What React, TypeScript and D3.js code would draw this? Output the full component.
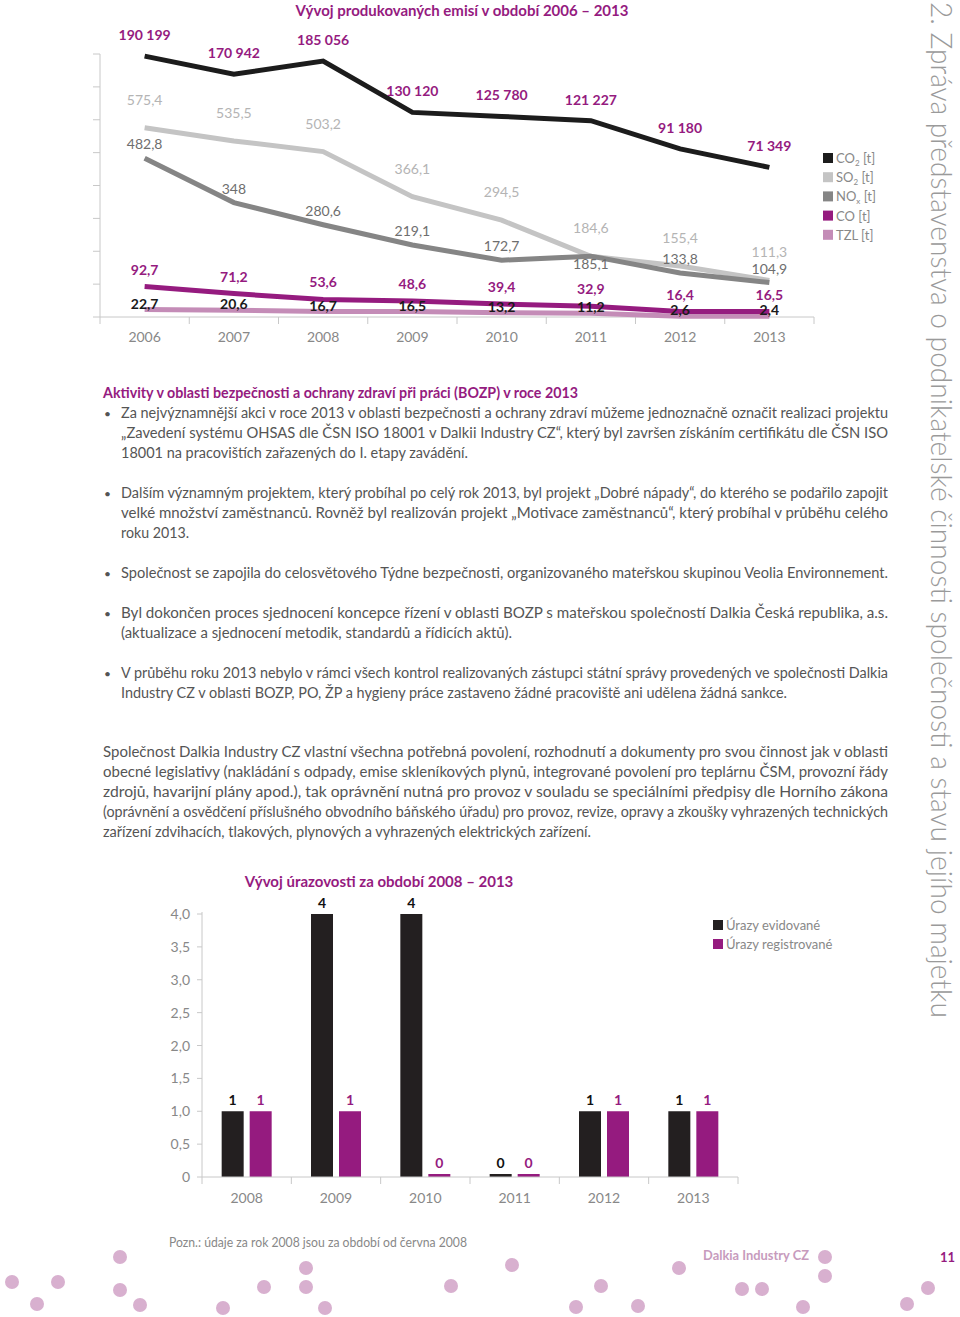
import React from 'react';
import * as d3 from 'd3';

// ---------- data ----------
const emissionYears = ['2006', '2007', '2008', '2009', '2010', '2011', '2012', '2013'];
const co2Values = [190199, 170942, 185056, 130120, 125780, 121227, 91180, 71349];
const so2Values = [575.4, 535.5, 503.2, 366.1, 294.5, 184.6, 155.4, 111.3];
const noxValues = [482.8, 348, 280.6, 219.1, 172.7, 185.1, 133.8, 104.9];
const coValues = [92.7, 71.2, 53.6, 48.6, 39.4, 32.9, 16.4, 16.5];
const tzlValues = [22.7, 20.6, 16.7, 16.5, 13.2, 11.2, 2.6, 2.4];
const emissionTicks = [0, 100, 200, 300, 400, 500, 600, 700, 800];

const injuryYears = ['2008', '2009', '2010', '2011', '2012', '2013'];
const injuriesRecorded = [1, 4, 4, 0, 1, 1];
const injuriesRegistered = [1, 1, 0, 0, 1, 1];
const injuryTicks = [0, 0.5, 1, 1.5, 2, 2.5, 3, 3.5, 4];

// ---------- styles ----------
const FONT = 'Lato, "Open Sans", sans-serif';
const PURPLE = '#951b7f';
const LIGHT_PURPLE = '#c48cb7';
const DOT = '#d8b0cf';
const TEXT = '#555';
const AXIS = '#c8c8c8';
const TICK_TEXT = '#888';

const czLocale = d3.formatLocale({ decimal: ',', thousands: '\u00a0', grouping: [3], currency: ['', ''] });
const fmtInt = czLocale.format(',d');
const fmtDec = (v: number) => (Number.isInteger(v) ? String(v) : v.toFixed(1).replace('.', ','));
const fmtTick = (v: number) => (v === 0 ? '0' : v.toFixed(1).replace('.', ','));

const bodyLines: { x: number; y: number; w: number; t: string; bullet?: boolean }[] = [
  { x: 121, y: 418, w: 767, bullet: true, t: 'Za nejvýznamnější akci v roce 2013 v oblasti bezpečnosti a ochrany zdraví můžeme jednoznačně označit realizaci projektu' },
  { x: 121, y: 438, w: 767, t: '„Zavedení systému OHSAS dle ČSN ISO 18001 v Dalkii Industry CZ“, který byl završen získáním certifikátu dle ČSN ISO' },
  { x: 121, y: 458, w: 347, t: '18001 na pracovištích zařazených do I. etapy zavádění.' },
  { x: 121, y: 498, w: 767, bullet: true, t: 'Dalším významným projektem, který probíhal po celý rok 2013, byl projekt „Dobré nápady“, do kterého se podařilo zapojit' },
  { x: 121, y: 518, w: 767, t: 'velké množství zaměstnanců. Rovněž byl realizován projekt „Motivace zaměstnanců“, který probíhal v průběhu celého' },
  { x: 121, y: 538, w: 68, t: 'roku 2013.' },
  { x: 121, y: 578, w: 767, bullet: true, t: 'Společnost se zapojila do celosvětového Týdne bezpečnosti, organizovaného mateřskou skupinou Veolia Environnement.' },
  { x: 121, y: 618, w: 767, bullet: true, t: 'Byl dokončen proces sjednocení koncepce řízení v oblasti BOZP s mateřskou společností Dalkia Česká republika, a.s.' },
  { x: 121, y: 638, w: 391, t: '(aktualizace a sjednocení metodik, standardů a řídicích aktů).' },
  { x: 121, y: 678, w: 767, bullet: true, t: 'V průběhu roku 2013 nebylo v rámci všech kontrol realizovaných zástupci státní správy provedených ve společnosti Dalkia' },
  { x: 121, y: 698, w: 666, t: 'Industry CZ v oblasti BOZP, PO, ŽP a hygieny práce zastaveno žádné pracoviště ani udělena žádná sankce.' },
  { x: 103, y: 757, w: 785, t: 'Společnost Dalkia Industry CZ vlastní všechna potřebná povolení, rozhodnutí a dokumenty pro svou činnost jak v oblasti' },
  { x: 103, y: 777, w: 785, t: 'obecné legislativy (nakládání s odpady, emise skleníkových plynů, integrované povolení pro teplárnu ČSM, provozní řády' },
  { x: 103, y: 797, w: 785, t: 'zdrojů, havarijní plány apod.), tak oprávnění nutná pro provoz v souladu se speciálními předpisy dle Horního zákona' },
  { x: 103, y: 817, w: 785, t: '(oprávnění a osvědčení příslušného obvodního báňského úřadu) pro provoz, revize, opravy a zkoušky vyhrazených technických' },
  { x: 103, y: 837, w: 488, t: 'zařízení zdvihacích, tlakových, plynových a vyhrazených elektrických zařízení.' },
];

// decorative footer dots
const footerDots: [number, number][] = [
  [12, 1282], [37, 1304], [58, 1282], [120, 1257], [120, 1290], [140, 1305], [223, 1308],
  [264, 1287], [306, 1268], [306, 1287], [325, 1308], [451, 1286], [512, 1265], [576, 1307],
  [601, 1286], [638, 1306], [679, 1268], [742, 1289], [762, 1289], [803, 1307], [825, 1257],
  [825, 1276], [907, 1304], [928, 1288],
];

export default function App() {
  // ---------- emissions chart scales ----------
  const x = d3.scaleBand().domain(emissionYears).range([100, 814]);
  const cx = (yr: string) => (x(yr) as number) + x.bandwidth() / 2;
  const y = d3.scaleLinear().domain([0, 800]).range([317, 54]);
  const yCo2 = d3.scaleLinear().domain([60000, 200000]).range([178, 47]);

  type S = { key: string; values: number[]; scale: (v: number) => number; color: string; labelColor: string; weight: number; dy: number; fmt: (v: number) => string };
  const series: S[] = [
    { key: 'TZL', values: tzlValues, scale: y, color: LIGHT_PURPLE, labelColor: '#1a1a1a', weight: 700, dy: -6, fmt: fmtDec },
    { key: 'CO', values: coValues, scale: y, color: PURPLE, labelColor: PURPLE, weight: 700, dy: -17, fmt: fmtDec },
    { key: 'SO2', values: so2Values, scale: y, color: '#c4c4c4', labelColor: '#b4b4b4', weight: 400, dy: -28, fmt: fmtDec },
    { key: 'NOx', values: noxValues, scale: y, color: '#858585', labelColor: '#6e6e6e', weight: 400, dy: -14, fmt: fmtDec },
    { key: 'CO2', values: co2Values, scale: yCo2, color: '#1c1c1c', labelColor: PURPLE, weight: 700, dy: -21, fmt: fmtInt },
  ];

  const legend = [
    { base: 'CO', sub: '2', color: '#1c1c1c' },
    { base: 'SO', sub: '2', color: '#c4c4c4' },
    { base: 'NO', sub: 'x', color: '#858585' },
    { base: 'CO', sub: '', color: PURPLE },
    { base: 'TZL', sub: '', color: LIGHT_PURPLE },
  ];

  const labelY = (s: S, i: number) => {
    const ly = s.scale(s.values[i]);
    if (s.key === 'NOx') {
      const other = y(so2Values[i]);
      if (Math.abs(other - ly) < 1) return ly + 13;
    }
    return ly + s.dy + 5;
  };

  // ---------- injury chart scales ----------
  const xb = d3.scaleBand().domain(injuryYears).range([202, 738]);
  const bc = (yr: string) => (xb(yr) as number) + xb.bandwidth() / 2;
  const yb = d3.scaleLinear().domain([0, 4]).range([1177, 914]);
  const barW = 22;
  const barGap = 3;

  const bars = injuryYears.flatMap((yr, i) => [
    { yr, v: injuriesRecorded[i], x0: bc(yr) - barGap - barW, color: '#231f20', label: '#111' },
    { yr, v: injuriesRegistered[i], x0: bc(yr) + barGap, color: PURPLE, label: PURPLE },
  ]);

  const bandEdges = [...emissionYears.map((yr) => x(yr) as number), 814];
  const bandEdgesB = [...injuryYears.map((yr) => xb(yr) as number), 738];

  return (
    <svg width={960} height={1317} style={{ position: 'absolute', left: 0, top: 0, background: '#fff' }} fontFamily={FONT}>
      {/* ===== Emissions chart ===== */}
      <text x={462} y={16} textAnchor="middle" fill={PURPLE} fontWeight={700} fontSize={15}>
        Vývoj produkovaných emisí v období 2006 – 2013
      </text>
      <line x1={100} x2={100} y1={54} y2={317} stroke={AXIS} />
      {emissionTicks.map((t) => (
        <line key={t} x1={93} x2={100} y1={y(t)} y2={y(t)} stroke={AXIS} />
      ))}
      <line x1={100} x2={814} y1={317} y2={317} stroke={AXIS} />
      {bandEdges.map((e, i) => (
        <line key={i} x1={e} x2={e} y1={317} y2={324} stroke={AXIS} />
      ))}
      {emissionYears.map((yr) => (
        <text key={yr} x={cx(yr)} y={342} textAnchor="middle" fill={TICK_TEXT} fontSize={14}>
          {yr}
        </text>
      ))}
      {series.map((s) => {
        const line = d3
          .line<number>()
          .x((_, i) => cx(emissionYears[i]))
          .y((v) => s.scale(v));
        return (
          <path key={s.key} d={line(s.values) as string} fill="none" stroke={s.color} strokeWidth={5} strokeLinejoin="miter" />
        );
      })}
      {series.map((s) => (
        <g key={s.key + 'l'}>
          {s.values.map((v, i) => (
            <text key={i} x={cx(emissionYears[i])} y={labelY(s, i)} textAnchor="middle" fill={s.labelColor} fontWeight={s.weight} fontSize={14}>
              {s.fmt(v)}
            </text>
          ))}
        </g>
      ))}
      {legend.map((l, i) => (
        <g key={i} transform={`translate(823, ${153 + i * 19.2})`}>
          <rect x={0} y={0} width={10} height={10} fill={l.color} />
          <text x={13} y={10} fill={TICK_TEXT} fontSize={13}>
            {l.base}
            {l.sub && (
              <tspan fontSize={8} dy={3}>
                {l.sub}
              </tspan>
            )}
            <tspan dy={l.sub ? -3 : 0}>{' [t]'}</tspan>
          </text>
        </g>
      ))}

      {/* ===== Body text ===== */}
      <text x={103} y={398} fill={PURPLE} fontWeight={700} fontSize={14.5} textLength={475} lengthAdjust="spacingAndGlyphs">
        Aktivity v oblasti bezpečnosti a ochrany zdraví při práci (BOZP) v roce 2013
      </text>
      {bodyLines.map((l, i) => (
        <g key={i}>
          {l.bullet && (
            <text x={104} y={l.y} fill={TEXT} fontSize={12}>
              •
            </text>
          )}
          <text x={l.x} y={l.y} fill={TEXT} fontSize={14.5} textLength={l.w} lengthAdjust="spacingAndGlyphs">
            {l.t}
          </text>
        </g>
      ))}

      {/* ===== Injury chart ===== */}
      <text x={379} y={887} textAnchor="middle" fill={PURPLE} fontWeight={700} fontSize={15}>
        Vývoj úrazovosti za období 2008 – 2013
      </text>
      <line x1={202} x2={202} y1={912} y2={1177} stroke={AXIS} />
      {injuryTicks.map((t) => (
        <g key={t}>
          <line x1={197} x2={202} y1={yb(t)} y2={yb(t)} stroke={AXIS} />
          <text x={190} y={yb(t) + 5} textAnchor="end" fill={TICK_TEXT} fontSize={14}>
            {fmtTick(t)}
          </text>
        </g>
      ))}
      {bars.map((b, i) => {
        const top = Math.min(yb(b.v), yb(0) - 3);
        return (
          <g key={i}>
            <rect x={b.x0} y={top} width={barW} height={yb(0) - top} fill={b.color} />
            <text x={b.x0 + barW / 2} y={top - 6} textAnchor="middle" fill={b.label} fontWeight={700} fontSize={14}>
              {b.v}
            </text>
          </g>
        );
      })}
      <line x1={202} x2={738} y1={1177} y2={1177} stroke={AXIS} />
      {bandEdgesB.map((e, i) => (
        <line key={i} x1={e} x2={e} y1={1177} y2={1184} stroke={AXIS} />
      ))}
      {injuryYears.map((yr) => (
        <text key={yr} x={bc(yr)} y={1203} textAnchor="middle" fill={TICK_TEXT} fontSize={14}>
          {yr}
        </text>
      ))}
      <g transform="translate(713, 920)">
        <rect x={0} y={0} width={10} height={10} fill="#231f20" />
        <text x={13} y={10} fill={TICK_TEXT} fontSize={13}>
          Úrazy evidované
        </text>
        <rect x={0} y={19} width={10} height={10} fill={PURPLE} />
        <text x={13} y={29} fill={TICK_TEXT} fontSize={13}>
          Úrazy registrované
        </text>
      </g>

      <text x={169} y={1247} fill={TICK_TEXT} fontSize={13} textLength={298} lengthAdjust="spacingAndGlyphs">
        Pozn.: údaje za rok 2008 jsou za období od června 2008
      </text>

      {/* ===== Footer ===== */}
      {footerDots.map(([dx, dy], i) => (
        <circle key={i} cx={dx} cy={dy} r={7} fill={DOT} />
      ))}
      <text x={703} y={1260} fill="#c79bbd" fontWeight={700} fontSize={13} textLength={106} lengthAdjust="spacingAndGlyphs">
        Dalkia Industry CZ
      </text>
      <text x={955} y={1262} textAnchor="end" fill={PURPLE} fontWeight={700} fontSize={13}>
        11
      </text>

      {/* ===== Side title ===== */}
      <text
        transform="translate(931, 2) rotate(90)"
        x={0}
        y={0}
        fill="#9a9a9a"
        fontSize={30}
        fontWeight={300}
        textLength={1016}
        lengthAdjust="spacingAndGlyphs"
      >
        2. Zpráva představenstva o podnikatelské činnosti společnosti a stavu jejího majetku
      </text>
    </svg>
  );
}
